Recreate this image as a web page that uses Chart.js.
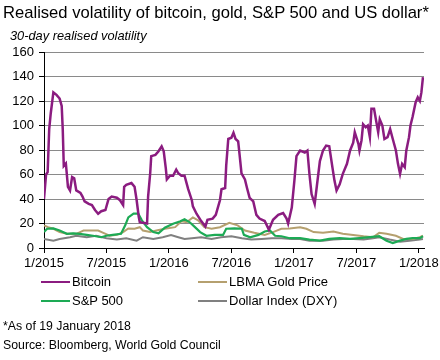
<!DOCTYPE html>
<html>
<head>
<meta charset="utf-8">
<script src="https://cdn.jsdelivr.net/npm/chart.js@4/dist/chart.umd.min.js"></script>
<style>
  html, body { margin: 0; padding: 0; background: #fff; }
  body { width: 440px; height: 360px; position: relative; overflow: hidden; font-family: "Liberation Sans", Arial, sans-serif; color: #000; }
  .t { position: absolute; white-space: nowrap; }
  #title { left: 3px; top: 3px; font-size: 16.6px; }
  #sub { left: 10px; top: 28px; font-size: 12.8px; font-style: italic; }
  #chartbox { position: absolute; left: 0; top: 0; width: 440px; height: 290px; }
  .lg { position: absolute; font-size: 13px; display: flex; align-items: center; }
  .lg span.l { display: inline-block; width: 29px; height: 2px; margin-right: 2px; }
  #note1 { left: 3px; top: 319px; font-size: 12.3px; }
  #note2 { left: 3px; top: 338px; font-size: 12.3px; }
</style>
</head>
<body>
<div id="chartbox"><canvas id="c" width="440" height="290"></canvas></div>
<div class="t" id="title">Realised volatility of bitcoin, gold, S&amp;P 500 and US dollar*</div>
<div class="t" id="sub">30-day realised volatility</div>
<div id="legend"></div>
<div class="t" id="note1">*As of 19 January 2018</div>
<div class="t" id="note2">Source: Bloomberg, World Gold Council</div>
<script>
// x values are months since January 2015
const tickLabels = ['1/2015','7/2015','1/2016','7/2016','1/2017','7/2017','1/2018'];
const seriesNames = ['Bitcoin','LBMA Gold Price','S&P 500','Dollar Index (DXY)'];
const seriesColors = ['#8b1c80','#b5a06f','#1daa55','#808080'];

const btcMonths = [0,0.2,0.35,0.5,0.65,0.9,1.2,1.5,1.7,1.8,1.9,2.1,2.3,2.5,2.7,2.9,3.1,3.5,3.7,3.9,4.3,4.6,4.9,5.2,5.5,5.9,6.2,6.5,7.0,7.3,7.6,7.7,7.9,8.4,8.7,8.9,9.1,9.2,9.9,10.0,10.2,10.3,10.7,11.0,11.3,11.5,11.7,11.8,12.1,12.4,12.7,12.9,13.2,13.5,13.85,14.2,14.3,14.65,15.1,15.5,15.7,16.2,16.5,16.9,17.05,17.4,17.5,17.7,18.0,18.2,18.4,18.65,18.8,18.97,19.3,19.5,19.75,20.1,20.4,20.7,21.2,21.6,22.0,22.5,22.97,23.3,23.45,23.8,24.05,24.25,24.6,25.05,25.3,25.5,25.7,26.0,26.2,26.5,26.8,27.1,27.4,27.7,27.9,28.1,28.4,28.7,29.1,29.4,29.7,29.85,30.2,30.3,30.5,30.65,30.9,31.1,31.3,31.45,31.7,31.9,32.1,32.25,32.5,32.7,33.0,33.25,33.5,33.8,34.0,34.2,34.4,34.65,34.8,35.06,35.2,35.4,35.7,35.9,36.1,36.25,36.4];
const btcValues = [40,60,62,97,110,127,125,122,116,97,67,69,50,47,58,57,47,45,42,38,36,35,31,28,30,31,40,42,41,39,35,50,51.5,53,50,39,25.5,21,20,42,61,75,76,79,83,79,65,56,59,59,64,61,59,59,48,39,34,28,22,17.5,23,24,27,39,48,49,67,89,90,94,89,87,75,61,56,49,41,38,27,24,22,15,23,27,28.5,24,20,33,55,75,79.6,78,79.6,60,44,36,50,71,79.6,83.6,83,66,55,47,52,60.5,68.7,79.6,86,94.5,85,79.6,88,101,98.6,100,90.5,113.6,113.6,104,94.5,105,100,89,90.5,97,89,79.6,68.7,60.5,68.7,66,79.6,90.5,100,107,119,123,120,127,139.5];

const goldMonths = [0,0.4,0.9,1.5,2.2,3.1,3.8,4.4,5.2,5.7,6.3,7.0,7.6,8.1,8.7,9.2,9.5,10.2,10.8,11.6,12.6,13.2,13.7,14.3,14.8,15.4,16.1,16.9,17.8,18.6,19.3,20.2,21.2,22.0,22.8,23.6,24.6,25.2,25.9,26.8,27.8,28.7,29.7,30.7,31.6,32.2,32.9,33.8,34.5,35.4,36.1,36.4];
const goldValues = [18.5,17,15.7,13,11.6,11.6,14.3,14.3,14.3,12.4,10,10.7,13,16,15.7,17,14.3,13,14.3,15.7,17,21.8,21,25,22.6,17,15.7,17,20.6,18.5,14.3,12.4,10.7,13,15.7,16,17,15.7,13,12.4,13.5,11.6,10.7,9.6,8.8,12.4,11.6,10,7.4,7.4,8.8,10];

const spxMonths = [0,0.3,0.9,1.5,2.2,2.8,3.4,4.1,4.7,5.5,6.0,6.6,7.4,7.8,8.1,8.6,9.05,9.4,9.9,10.5,11.0,11.6,12.4,13.1,13.5,14.0,14.5,15.0,15.6,16.4,17.2,17.5,18.3,19.0,19.2,19.8,20.6,21.2,21.7,22.2,22.8,23.6,24.6,25.5,26.5,27.4,28.4,29.4,30.3,31.3,32.2,32.9,33.5,34.2,34.8,35.4,36.1,36.4];
const spxValues = [13,15.7,16,14.3,11.6,12,11.6,10.7,10,8.8,10,10.7,11.6,18.5,25,28,28,22.6,17,13,12,16.5,19.8,21.8,23.4,21,17,13,10,10.7,10.7,15.7,16,15.7,10.7,8.8,10.7,13.5,14.3,10,9.6,8,8,6.9,6,7.4,8,7.4,8,8.8,9.6,6,4,6,7.4,8,8,9.6];

const dxyMonths = [0,0.9,1.5,2.5,3.1,4.1,5.0,6.0,7.0,7.9,8.9,9.5,10.5,11.4,12.2,12.9,13.5,14.2,15.1,16.1,17.0,18.0,19.0,19.9,20.9,21.9,22.8,23.8,24.6,25.5,26.8,27.8,28.7,29.7,30.7,31.6,32.2,33.2,34.2,35.1,36.1,36.4];
const dxyValues = [7.4,6,7.4,8.8,10,8.8,10,8,6.9,8,6,8.8,7.4,8.8,10.5,8.8,7.4,8,8.8,7.4,8.8,9.6,8,6.9,7.4,8,8,7.4,7.4,6,6,6.9,7.4,7.4,6.9,8,8.8,6.9,5.2,6,6.9,7.4];

function pts(xs, ys) { return xs.map((x, i) => ({ x: x, y: ys[i] })); }

const FONT = '"Liberation Sans", Arial, sans-serif';

const datasets = [
  { label: seriesNames[0], data: pts(btcMonths, btcValues), borderColor: seriesColors[0], borderWidth: 2.5 },
  { label: seriesNames[2], data: pts(spxMonths, spxValues), borderColor: seriesColors[2], borderWidth: 2.2 },
  { label: seriesNames[1], data: pts(goldMonths, goldValues), borderColor: seriesColors[1], borderWidth: 2 },
  { label: seriesNames[3], data: pts(dxyMonths, dxyValues), borderColor: seriesColors[3], borderWidth: 2 }
].map(d => Object.assign(d, { pointRadius: 0, tension: 0, fill: false }));

new Chart(document.getElementById('c'), {
  type: 'line',
  data: { datasets: datasets },
  options: {
    responsive: false,
    animation: false,
    events: [],
    layout: { padding: { top: 52, right: 16, bottom: 22, left: 0 } },
    plugins: { legend: { display: false }, tooltip: { enabled: false }, title: { display: false } },
    scales: {
      x: {
        type: 'linear', min: 0, max: 36.5,
        afterFit: s => { s.height = 20; s.paddingLeft = 0; s.paddingRight = 0; },
        afterBuildTicks: s => { s.ticks = tickLabels.map((_, i) => ({ value: i * 6 })); },
        ticks: { callback: v => tickLabels[Math.round(v / 6)], color: '#000', font: { family: FONT, size: 13 }, padding: 3, maxRotation: 0, autoSkip: false },
        grid: { drawOnChartArea: false, drawTicks: true, tickLength: 5, tickColor: '#000' },
        border: { color: '#000', width: 1 }
      },
      y: {
        min: 0, max: 160,
        afterFit: s => { s.width = 44; },
        ticks: { stepSize: 20, color: '#000', font: { family: FONT, size: 13 }, padding: 5 },
        grid: { color: '#8a8a8a', lineWidth: 1, borderDash: [3, 2], tickLength: 5, tickColor: '#000', tickBorderDash: [] },
        border: { color: '#000', width: 1 }
      }
    }
  }
});

// legend built from the series arrays
const legendPos = [[41, 274], [198, 274], [41, 293], [198, 293]];
const lg = document.getElementById('legend');
seriesNames.forEach((n, i) => {
  const d = document.createElement('div');
  d.className = 'lg';
  d.style.left = legendPos[i][0] + 'px';
  d.style.top = legendPos[i][1] + 'px';
  const l = document.createElement('span');
  l.className = 'l';
  l.style.background = seriesColors[i];
  d.appendChild(l);
  d.appendChild(document.createTextNode(n));
  lg.appendChild(d);
});
</script>
</body>
</html>
